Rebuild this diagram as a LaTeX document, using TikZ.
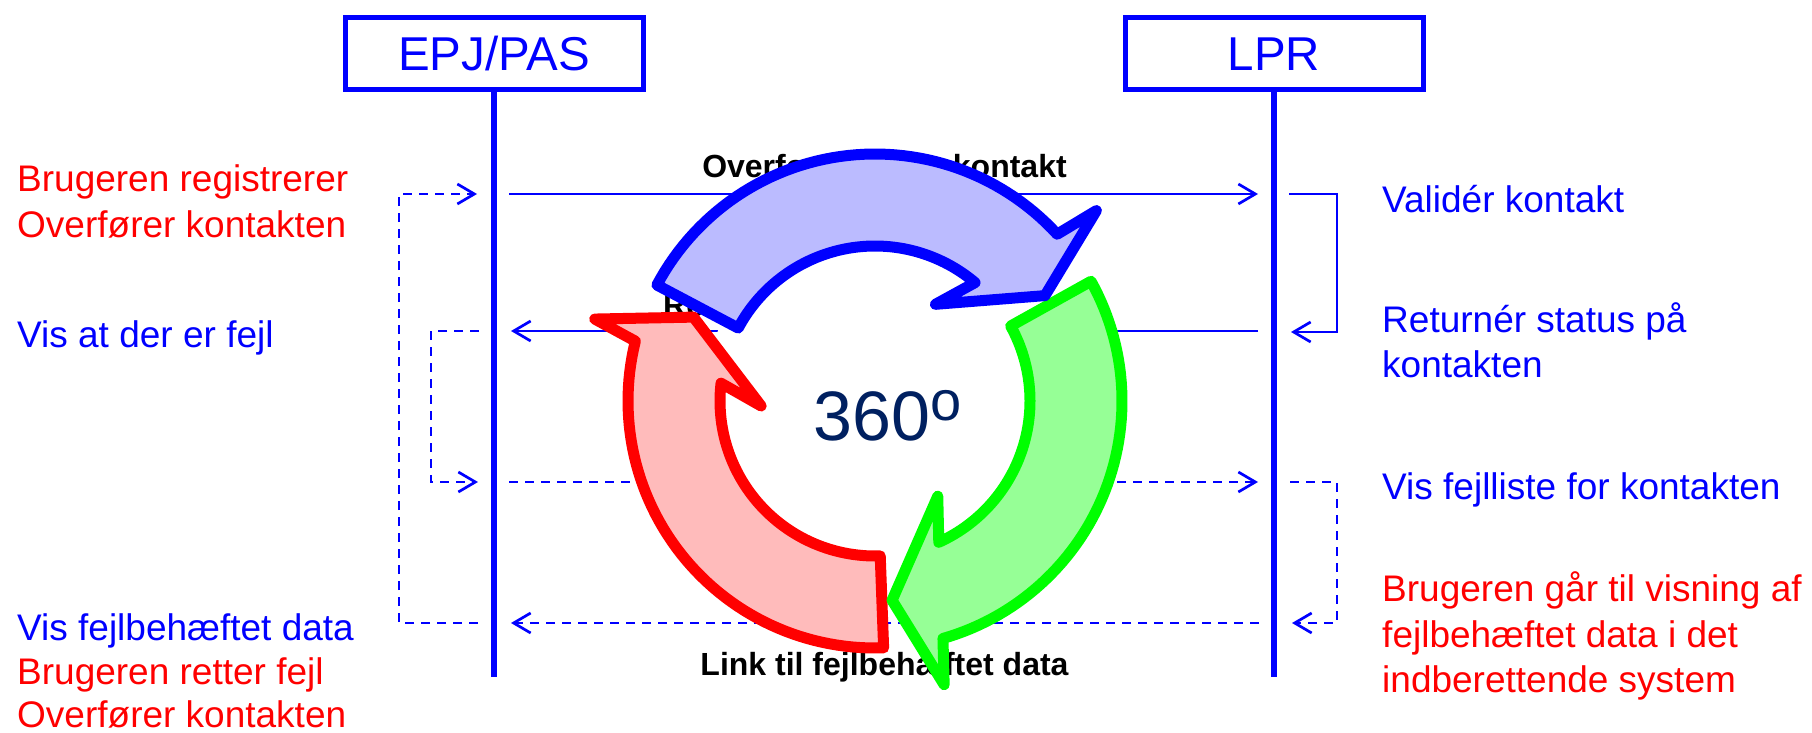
\documentclass[tikz,border=0pt]{standalone}
\usepackage{fontspec}
\setmainfont{Liberation Sans}
\usetikzlibrary{arrows.meta}
\definecolor{pblue}{RGB}{0,0,255}
\definecolor{pred}{RGB}{255,0,0}
\definecolor{pgreen}{RGB}{0,255,0}
\definecolor{fblue}{RGB}{187,187,255}
\definecolor{fred}{RGB}{255,187,187}
\definecolor{fgreen}{RGB}{150,255,150}
\definecolor{navy}{RGB}{0,32,96}
% #1 style, #2 tail angle, #3 outer junction, #4 outer barb, #5 tip, #6 inner barb, #7 inner junction
\newcommand\ringarrow[7]{%
  \path[#1] plot[domain=0:1,samples=60,variable=\rv]
      ({875+247*cos(#2+(#3-#2)*\rv)},{401+247*sin(#2+(#3-#2)*\rv)})
    -- ({875+292*cos(#4)},{401+292*sin(#4)})
    -- ({875+200*cos(#5)},{401+200*sin(#5)})
    -- ({875+114*cos(#6)},{401+114*sin(#6)})
    -- plot[domain=0:1,samples=60,variable=\rv]
      ({875+155*cos(#7+(#2-#7)*\rv)},{401+155*sin(#7+(#2-#7)*\rv)})
    -- cycle;}
\begin{document}
\begin{tikzpicture}[x=1pt,y=-1pt,
  hdr/.style={draw=pblue, line width=5pt, minimum width=298pt, minimum height=72pt,
    inner sep=0pt, text=pblue, font=\fontsize{47.5}{50}\selectfont},
  life/.style={draw=pblue, line width=5.5pt},
  msg/.style={draw=pblue, line width=2.7pt, -{Straight Barb[length=17pt,width=20pt]}},
  dsh/.style={dash pattern=on 9pt off 7pt},
  lbl/.style={anchor=base west, inner sep=0pt, font=\fontsize{37}{44}\selectfont},
  midlbl/.style={anchor=base, inner sep=0pt, font=\bfseries\fontsize{32}{36}\selectfont, text=black},
  ringline/.style={line width=11pt, line join=round}
]
\useasboundingbox (0,0) rectangle (1812,733);

% headers and lifelines
\node[hdr] (epj) at (494,54) {EPJ/PAS};
\node[hdr] (lpr) at (1274,54) {LPR};
\coordinate (eBot) at (494,677);
\coordinate (lBot) at (1274,677);
\draw[life] (epj.south) -- (eBot);
\draw[life] (lpr.south) -- (lBot);

% message end points
\coordinate (m1s) at (509,194);  \coordinate (m1e) at (1258,194);
\coordinate (m2s) at (1258,331); \coordinate (m2e) at (511,331);
\coordinate (m3s) at (509,482);  \coordinate (m3e) at (1258,482);
\coordinate (m4s) at (1259,623); \coordinate (m4e) at (511,623);
% loops
\coordinate (o1s) at (478,623); \coordinate (lx1) at (399,194); \coordinate (o1e) at (477,194);
\coordinate (i1s) at (479,331); \coordinate (lx2) at (431,482); \coordinate (i1e) at (478,482);
\coordinate (p1s) at (1289,194); \coordinate (px1) at (1337,332); \coordinate (p1e) at (1291,332);
\coordinate (p2s) at (1290,482); \coordinate (px2) at (1337,623); \coordinate (p2e) at (1292,623);

\draw[msg] (m1s) -- (m1e);
\draw[msg] (m2s) -- (m2e);
\draw[msg,dsh] (m3s) -- (m3e);
\draw[msg,dsh] (m4s) -- (m4e);
\draw[msg,dsh] (o1s) -| (lx1) -- (o1e);
\draw[msg,dsh] (i1s) -| (lx2) -- (i1e);
\draw[msg] (p1s) -| (px1) -- (p1e);
\draw[msg,dsh] (p2s) -| (px2) -- (p2e);

% message labels
\node[midlbl] (t1) at (884.5,177) {Overfør data for kontakt};
\node[midlbl,anchor=base west] (t2) at (663,316) {Returnér status};
\node[midlbl] (t3) at (884.5,675) {Link til fejlbehæftet data};

% left texts
\node[lbl,text=pred]  (a1) at (17,191) {Brugeren registrerer};
\node[lbl,text=pred]  (a2) at (17,237) {Overfører kontakten};
\node[lbl,text=pblue] (a3) at (17,347) {Vis at der er fejl};
\node[lbl,text=pblue] (a4) at (17,640) {Vis fejlbehæftet data};
\node[lbl,text=pred]  (a5) at (17,684) {Brugeren retter fejl};
\node[lbl,text=pred]  (a6) at (17,727) {Overfører kontakten};

% right texts
\node[lbl,text=pblue] (b1) at (1382,212) {Validér kontakt};
\node[lbl,text=pblue] (b2) at (1382,332) {Returnér status på};
\node[lbl,text=pblue] (b3) at (1382,377) {kontakten};
\node[lbl,text=pblue] (b4) at (1382,499) {Vis fejlliste for kontakten};
\node[lbl,text=pred]  (b5) at (1382,601) {Brugeren går til visning af};
\node[lbl,text=pred]  (b6) at (1382,647) {fejlbehæftet data i det};
\node[lbl,text=pred]  (b7) at (1382,692) {indberettende system};

% cycle
\fill[white] (875,401) circle[radius=172];
\ringarrow{ringline,draw=pred,fill=fred}{88}{194.1}{196.3}{204.8}{177.5}{186.6}
\ringarrow{ringline,draw=pgreen,fill=fgreen}{331}{434.1}{436.3}{445.1}{416.6}{425.7}
\ringarrow{ringline,draw=pblue,fill=fblue}{208}{317.6}{319.3}{328.2}{302}{310.2}

\node[anchor=base west, inner sep=0pt, text=navy, font=\fontsize{70}{70}\selectfont]
  (deg) at (813,440) {360\raisebox{20pt}{\fontsize{56}{56}\selectfont o}};
\end{tikzpicture}
\end{document}
